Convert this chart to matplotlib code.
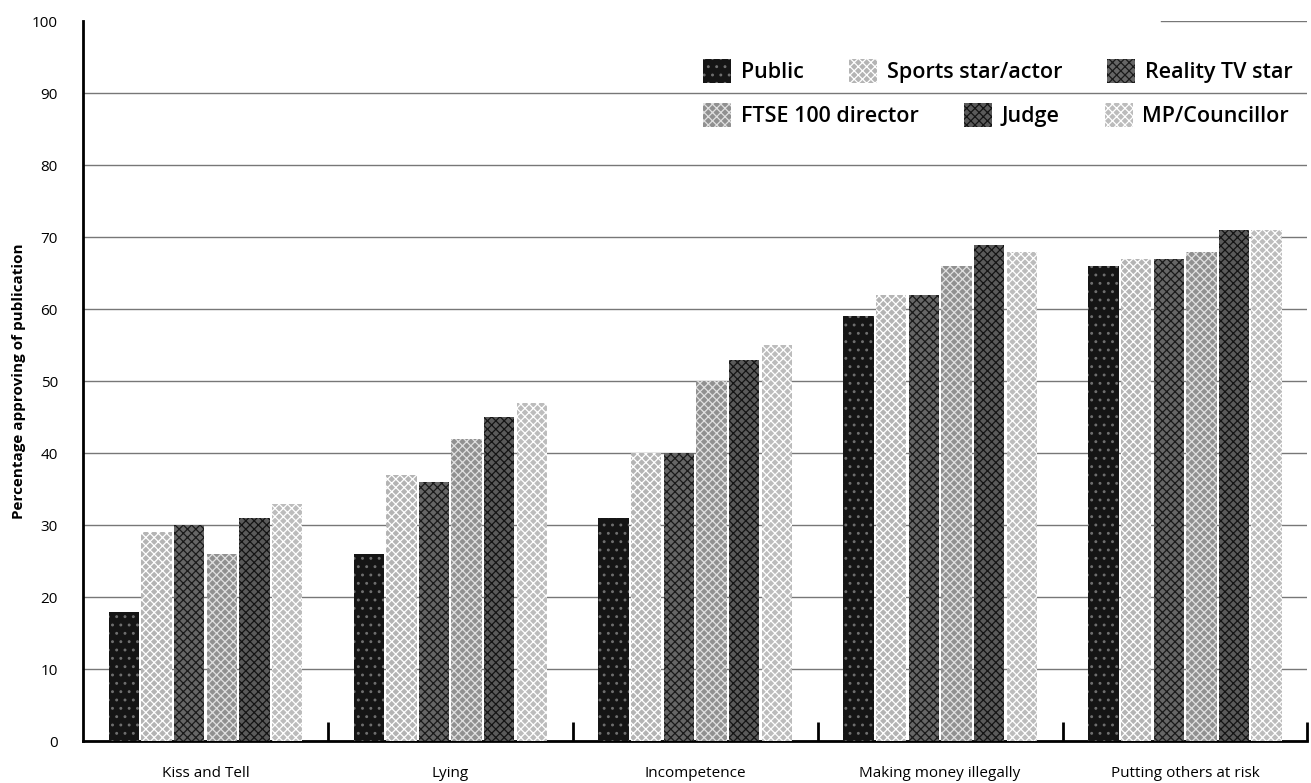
import matplotlib.pyplot as plt
import numpy as np

plt.rcParams['font.family'] = ['Open Sans', 'DejaVu Sans']
plt.rcParams['hatch.linewidth'] = 0.9

categories = ['Kiss and Tell', 'Lying', 'Incompetence', 'Making money illegally', 'Putting others at risk']
series = ['Public', 'Sports star/actor', 'Reality TV star', 'FTSE 100 director', 'Judge', 'MP/Councillor']
values = [
    [18, 26, 31, 59, 66],
    [29, 37, 40, 62, 67],
    [30, 36, 40, 62, 67],
    [26, 42, 50, 66, 68],
    [31, 45, 53, 69, 71],
    [33, 47, 55, 68, 71],
]

# (facecolor, hatch colour, hatch) - halftone look
styles = [
    ('#151515', '#707070', '..'),
    ('#b4b4b4', '#ffffff', 'xxxx'),
    ('#666666', '#1a1a1a', 'xxxx'),
    ('#909090', '#e0e0e0', 'xxxx'),
    ('#5a5a5a', '#141414', 'xxxx'),
    ('#bcbcbc', '#ffffff', 'xxxx'),
]

fig = plt.figure(figsize=(13.11, 7.83), dpi=100)
ax = fig.add_axes([0.0633, 0.0536, 0.934, 0.919])

x = np.arange(len(categories))
n = len(series)
step = 0.8 / n
handles = []
for i, name in enumerate(series):
    fc, hc, hatch = styles[i]
    bars = ax.bar(x - 0.4 + step * (i + 0.5), values[i], width=step * 0.93,
                  color=fc, edgecolor=hc, hatch=hatch, linewidth=0, label=name, zorder=3)
    handles.append(bars)

ax.set_xlim(-0.5, len(categories) - 0.5)
ax.set_ylim(0, 100)
ax.set_yticks(range(0, 101, 10))
ax.yaxis.grid(True, color='#777777', linewidth=1)
ax.axhline(100, xmin=0.88, color='#777777', linewidth=1)
ax.set_axisbelow(True)
for ln in ax.get_ygridlines()[-1:]:
    ln.set_visible(False)

ax.set_xticks(x)
ax.set_xticklabels(categories, fontsize=11)
ax.set_xticks(np.arange(0.5, len(categories), 1), minor=True)
ax.tick_params(axis='x', which='major', length=0, pad=18)
ax.tick_params(axis='x', which='minor', direction='in', length=14, width=2)
ax.tick_params(axis='y', length=0, labelsize=11, pad=18)

for s in ['top', 'right']:
    ax.spines[s].set_visible(False)
ax.spines['left'].set_linewidth(2)
ax.spines['bottom'].set_linewidth(2)

ax.set_ylabel('Percentage approving of publication', fontsize=11, fontweight='bold', labelpad=4)

# legend: two free rows, as in the original
leg_kw = dict(ncol=3, loc='center left', frameon=False, borderpad=0, borderaxespad=0,
              prop={'size': 15.5, 'weight': 'semibold'}, handlelength=1.3, handleheight=1.3,
              columnspacing=2.1, handletextpad=0.45)
leg1 = ax.legend(handles[:3], series[:3], bbox_to_anchor=(0.5065, 0.9306), **leg_kw)
ax.add_artist(leg1)
ax.legend(handles[3:], series[3:], bbox_to_anchor=(0.5065, 0.8694), **leg_kw)

fig.savefig('out.png', dpi=100)
